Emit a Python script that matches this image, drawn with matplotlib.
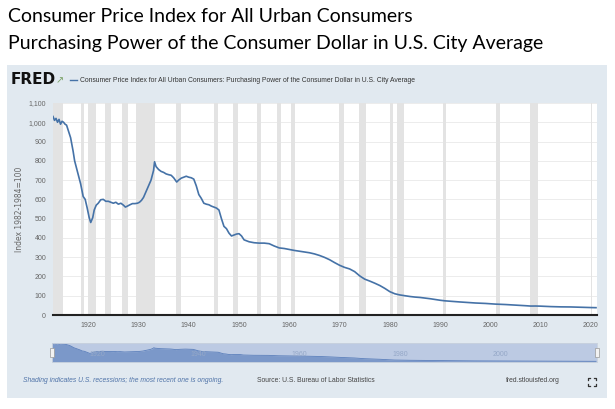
import matplotlib.pyplot as plt
from matplotlib.patches import Rectangle

# purchasing power of the dollar, index 1982-1984=100
years = [1913.0, 1913.3, 1913.6, 1913.9, 1914.2, 1914.5, 1914.8, 1915.1, 1915.4, 1915.7,
         1916.0, 1916.5, 1917.0, 1917.3, 1917.6, 1918.0, 1918.5, 1918.8, 1919.0, 1919.4,
         1919.8, 1920.2, 1920.5, 1920.9, 1921.2, 1921.6, 1922.0, 1922.5, 1923.0, 1923.5,
         1924.0, 1924.5, 1925.0, 1925.5, 1926.0, 1926.5, 1927.0, 1927.4, 1927.8, 1928.3,
         1928.8, 1929.3, 1929.8, 1930.2, 1930.6, 1931.0, 1931.5, 1932.0, 1932.5, 1933.0,
         1933.2, 1933.5, 1934.0, 1934.5, 1935.0, 1935.5, 1936.0, 1936.5, 1937.0, 1937.6,
         1938.0, 1938.5, 1939.0, 1939.5, 1940.0, 1940.5, 1941.0, 1941.5, 1942.0, 1942.5,
         1943.0, 1943.5, 1944.0, 1944.5, 1945.0, 1945.5, 1946.0, 1946.5, 1947.0, 1947.5,
         1948.0, 1948.5, 1949.0, 1949.5, 1950.0, 1950.5, 1951.0, 1951.5, 1952.0, 1953.0,
         1954.0, 1955.0, 1956.0, 1957.0, 1958.0, 1959.0, 1960.0, 1961.0, 1962.0, 1963.0,
         1964.0, 1965.0, 1966.0, 1967.0, 1968.0, 1969.0, 1970.0, 1971.0, 1972.0, 1973.0,
         1974.0, 1975.0, 1976.0, 1977.0, 1978.0, 1979.0, 1980.0, 1981.0, 1982.0, 1983.0,
         1984.0, 1985.0, 1986.0, 1987.0, 1988.0, 1989.0, 1990.0, 1991.0, 1992.0, 1993.0,
         1994.0, 1995.0, 1996.0, 1997.0, 1998.0, 1999.0, 2000.0, 2001.0, 2002.0, 2003.0,
         2004.0, 2005.0, 2006.0, 2007.0, 2008.0, 2009.0, 2010.0, 2011.0, 2012.0, 2013.0,
         2014.0, 2015.0, 2016.0, 2017.0, 2018.0, 2019.0, 2020.0, 2021.0]
values = [1030, 1010, 1020, 1000, 1015, 990, 1005, 1000, 990, 985,
          960, 920, 850, 800, 770, 730, 680, 640, 615, 600,
          555, 505, 480, 505, 545, 570, 580, 598, 600, 590,
          590, 585, 580, 585, 575, 580, 570, 560, 565, 572,
          578, 578, 580, 585, 595, 610, 640, 670, 700, 750,
          795, 770, 755, 745, 740, 732, 728, 725, 712, 690,
          700, 710, 715, 720, 715, 712, 705, 670, 625, 605,
          580, 575, 572, 565, 560, 555, 545, 500, 460, 448,
          425, 410, 415, 420, 422, 410, 390, 385, 380, 375,
          373, 373, 370, 358, 348, 345, 340, 335, 331, 327,
          323, 317, 309, 299, 287, 272, 258, 247, 239, 225,
          203, 186, 176, 165, 153, 138, 121, 110, 104, 100,
          96, 93, 91, 88, 84.5, 80.6, 76.5, 73.4, 71.3, 69.2,
          67.5, 65.6, 63.7, 62.3, 61.3, 60.0, 58.1, 56.5, 55.6, 54.3,
          52.9, 51.2, 49.6, 48.2, 46.4, 46.6, 45.9, 44.5, 43.6, 42.9,
          42.2, 42.2, 41.7, 40.8, 39.8, 39.1, 38.6, 38.0]

recessions = [(1913.0, 1914.95), (1918.6, 1919.2), (1920.0, 1921.55), (1923.4, 1924.55),
              (1926.8, 1927.9), (1929.6, 1933.2), (1937.4, 1938.45), (1945.1, 1945.8),
              (1948.85, 1949.8), (1953.5, 1954.4), (1957.6, 1958.3), (1960.3, 1961.1),
              (1969.9, 1970.9), (1973.85, 1975.2), (1980.0, 1980.55), (1981.5, 1982.9),
              (1990.5, 1991.2), (2001.2, 2001.9), (2007.9, 2009.5), (2020.1, 2020.3)]

xticks = [1920, 1930, 1940, 1950, 1960, 1970, 1980, 1990, 2000, 2010, 2020]
yticks = list(range(0, 1101, 100))
nav_labels = [1920, 1940, 1960, 1980, 2000]

W, H = 615, 409
small = 'Liberation Sans'
grey = '#666666'
line_blue = '#4572a7'


def fx(px):
    return px / W


def fy(py):
    return 1 - py / H


fig = plt.figure(figsize=(W / 100, H / 100), dpi=100)

# title above the FRED panel
fig.text(fx(8), fy(16), 'Consumer Price Index for All Urban Consumers',
         fontsize=14, family='Lato', va='center', ha='left')
fig.text(fx(8), fy(43), 'Purchasing Power of the Consumer Dollar in U.S. City Average',
         fontsize=14, family='Lato', va='center', ha='left')

# panel background (behind the axes)
fig.patches.append(Rectangle((fx(7), fy(398)), fx(600), 333 / H,
                             transform=fig.transFigure, facecolor='#e1e9f0',
                             edgecolor='none', zorder=-5))

# logo + legend
fig.text(fx(11), fy(80), 'FRED', fontsize=11, weight='bold', family='DejaVu Sans',
         va='center', ha='left', color='#111111')
fig.text(fx(56), fy(80), '\u2197', fontsize=7, color='#7ca36a', va='center', ha='left')
fig.lines.append(plt.Line2D([fx(70), fx(77)], [fy(80), fy(80)], transform=fig.transFigure,
                            color=line_blue, lw=1))
fig.text(fx(80), fy(80),
         'Consumer Price Index for All Urban Consumers: Purchasing Power of the Consumer Dollar in U.S. City Average',
         fontsize=4.9, family=small, va='center', ha='left', color='#333333')

# main chart
ax = fig.add_axes([fx(53), fy(315), fx(544), 212 / H])
ax.set_facecolor('white')
for a, b in recessions:
    ax.axvspan(a, b, color='#e3e3e3', lw=0, zorder=1)
ax.plot(years, values, color=line_blue, lw=1.2, zorder=3)
ax.set_xlim(1913.0, 2021.2)
ax.set_ylim(0, 1100)
ax.set_yticks(yticks)
ax.set_yticklabels(['{:,}'.format(v) for v in yticks])
ax.set_xticks(xticks)
ax.grid(axis='y', color='#ececec', lw=0.7, zorder=0)
ax.set_axisbelow(True)
for s in ['top', 'right', 'left']:
    ax.spines[s].set_visible(False)
ax.spines['bottom'].set_color('#222222')
ax.spines['bottom'].set_linewidth(1.5)
ax.spines['bottom'].set_zorder(4)
ax.tick_params(axis='both', length=0, labelsize=5, labelcolor=grey, pad=5)
for lab in ax.get_xticklabels() + ax.get_yticklabels():
    lab.set_family(small)
ax.set_ylabel('Index 1982-1984=100', fontsize=5.5, color=grey, labelpad=3)

# navigator strip
nav = fig.add_axes([fx(52), fy(362), fx(545), 19 / H])
nav.set_facecolor('#bccae3')
nav.fill_between(years, values, 0, color='#7b98c9', lw=0)
nav.plot(years, values, color='#5b7fbb', lw=0.6)
nav.set_xlim(1913.0, 2021.2)
nav.set_ylim(0, 1060)
nav.set_xticks([])
nav.set_yticks([])
for s in nav.spines.values():
    s.set_color('#c9d2de')
    s.set_linewidth(0.6)
for yr in nav_labels:
    nav.text(yr + 0.5, 0.4, str(yr), transform=nav.get_xaxis_transform(),
             fontsize=5, family=small, color='#95a8c8', va='center', ha='left')
for hx in [fx(52), fx(597)]:
    fig.patches.append(Rectangle((hx - fx(2), fy(357)), fx(4), 9 / H,
                                 transform=fig.transFigure, facecolor='#f2f2f2',
                                 edgecolor='#999999', lw=0.5, zorder=5))

# footer
fig.text(fx(23), fy(381), 'Shading indicates U.S. recessions; the most recent one is ongoing.',
         fontsize=4.9, family=small, style='italic', color='#4f73a8', va='center', ha='left')
fig.text(fx(257), fy(381), 'Source: U.S. Bureau of Labor Statistics',
         fontsize=4.9, family=small, color='#444444', va='center', ha='left')
fig.text(fx(506), fy(381), 'fred.stlouisfed.org',
         fontsize=4.9, family=small, color='#444444', va='center', ha='left')

# fullscreen icon corners
cx, cy, d, e = 592, 382, 4, 2
for sx in (-1, 1):
    for sy in (-1, 1):
        x0, y0 = cx + sx * d, cy + sy * d
        fig.lines.append(plt.Line2D([fx(x0 - sx * e), fx(x0), fx(x0)],
                                    [fy(y0), fy(y0), fy(y0 - sy * e)],
                                    transform=fig.transFigure, color='#333333', lw=0.9))

fig.savefig('out.png', dpi=100)
